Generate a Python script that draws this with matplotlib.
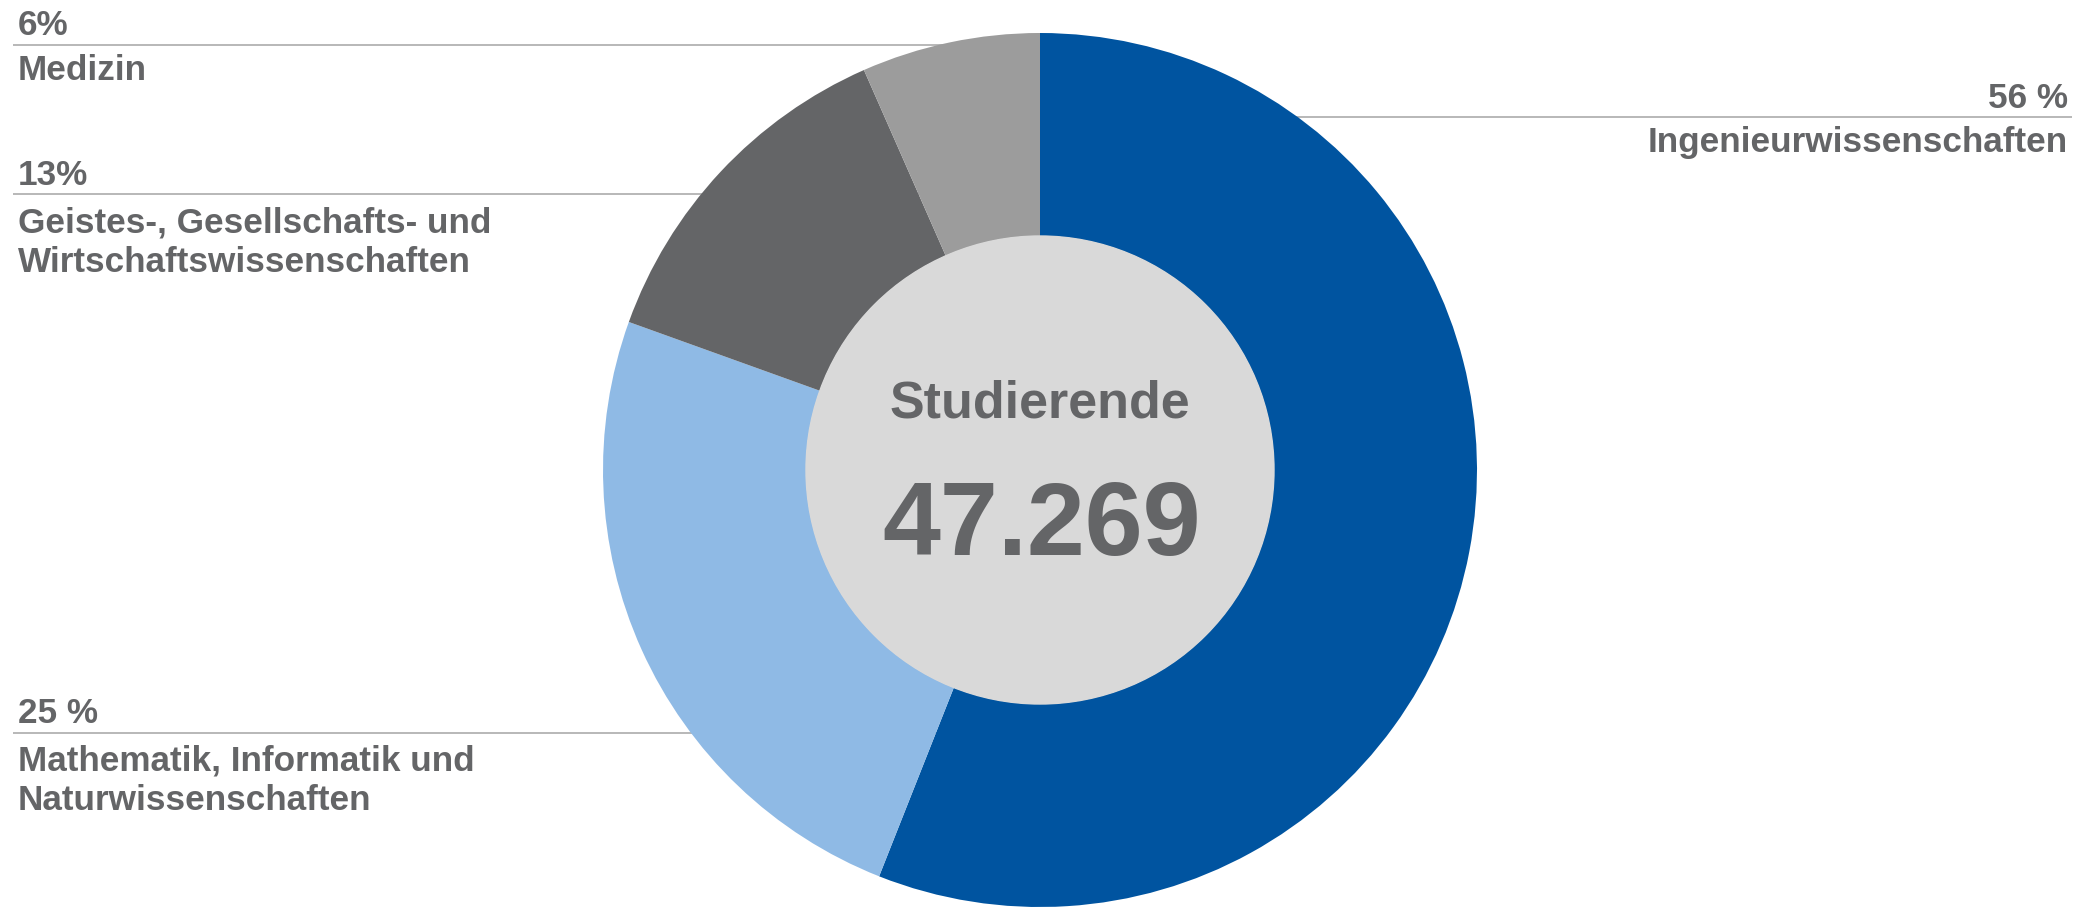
import matplotlib.pyplot as plt
from matplotlib.patches import Circle

# data
faecher = ['Ingenieurwissenschaften',
           'Mathematik, Informatik und\nNaturwissenschaften',
           'Geistes-, Gesellschafts- und\nWirtschaftswissenschaften',
           'Medizin']
anteile = [56.0, 24.5, 12.9, 6.6]
prozent_labels = ['56 %', '25 %', '13%', '6%']
farben = ['#0054A0', '#8FBAE5', '#646567', '#9C9C9C']
titel = 'Studierende'
gesamt = '47.269'

W, H = 2092, 910
txt_col = '#646567'
line_col = '#ababab'

plt.rcParams['font.family'] = ['Liberation Sans', 'DejaVu Sans']

fig = plt.figure(figsize=(W / 100, H / 100), dpi=100)
ax = fig.add_axes([0, 0, 1, 1])

cx, cy = 1040, H - 470
r_out, r_in = 437, 234

ax.pie(anteile, colors=farben, startangle=90, counterclock=False,
       center=(cx, cy), radius=r_out,
       wedgeprops=dict(width=r_out - r_in, linewidth=0))
ax.add_patch(Circle((cx, cy), r_in, color='#D9D9D9', zorder=3))

ax.text(cx, H - 404, titel, ha='center', va='center', fontsize=37.5,
        fontweight='bold', color=txt_col, zorder=4)
ax.text(cx + 2, H - 528, gesamt, ha='center', va='center', fontsize=75,
        fontweight='bold', color=txt_col, zorder=4)

fs = 25.3

def label(x, y_line, y_pct, y_name, pct, name, ha='left'):
    x0, x1 = (13, cx) if ha == 'left' else (cx, 2072)
    ax.plot([x0, x1], [H - y_line, H - y_line], color=line_col, lw=1.2,
            zorder=-1, solid_capstyle='butt')
    ax.text(x, H - y_pct, pct, ha=ha, va='baseline', fontsize=fs,
            fontweight='bold', color=txt_col)
    ax.text(x, H - y_name, name, ha=ha, va='baseline', fontsize=fs,
            fontweight='bold', color=txt_col, linespacing=1.25)

# rechts: Ingenieurwissenschaften
label(2068, 117, 108, 152, prozent_labels[0], faecher[0], ha='right')
# links unten: Mathematik
label(18, 733, 723, 810, prozent_labels[1], faecher[1])
# links: Geistes
label(18, 194, 185, 272, prozent_labels[2], faecher[2])
# links oben: Medizin
label(18, 45, 35, 80, prozent_labels[3], faecher[3])

ax.set_xlim(0, W)
ax.set_ylim(0, H)
ax.set_aspect('auto')
ax.axis('off')

fig.savefig('out.png', dpi=100, facecolor='white')
